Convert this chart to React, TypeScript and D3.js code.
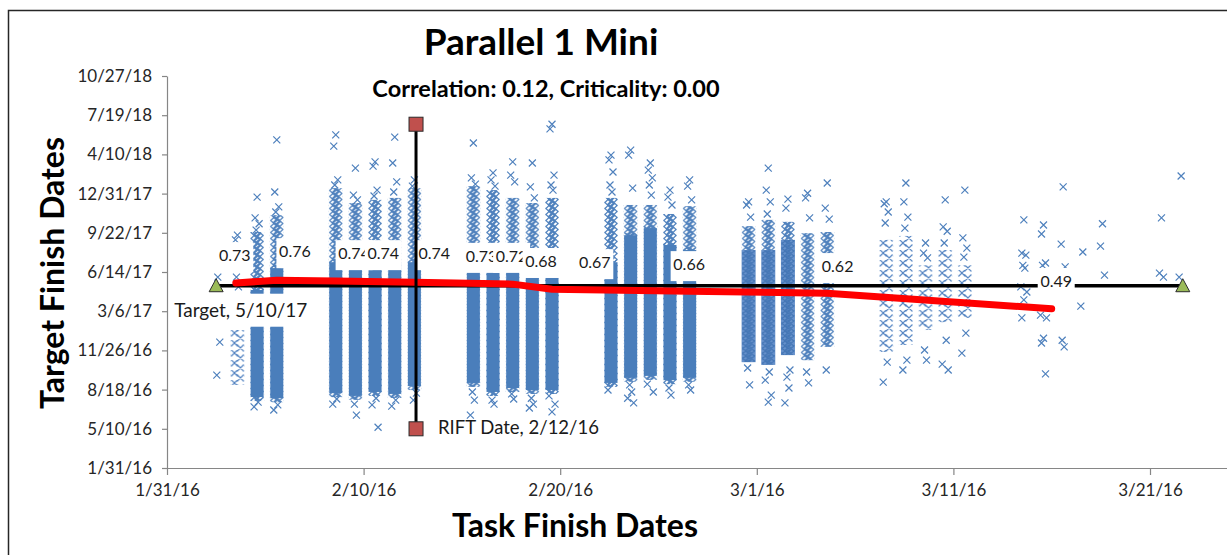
import React, { useEffect, useRef } from "react";
import * as d3 from "d3";

const W = 1227;
const H = 555;
const FONT = "Lato, 'Open Sans', sans-serif";

const title = "Parallel 1 Mini";
const subtitle = "Correlation: 0.12, Criticality: 0.00";
const xTitle = "Task Finish Dates";
const yTitle = "Target Finish Dates";

const xTicks = ["1/31/16", "2/10/16", "2/20/16", "3/1/16", "3/11/16", "3/21/16"];
const xMax = "3/31/16";
const yTicks = ["1/31/16", "5/10/16", "8/18/16", "11/26/16", "3/6/17", "6/14/17", "9/22/17", "12/31/17", "4/10/18", "7/19/18", "10/27/18"];

// one column of samples per working day (task finish ~2pm)
const colDays = [
  "2016-02-02 14:00", "2016-02-03 14:00", "2016-02-04 14:00", "2016-02-05 14:00",
  "2016-02-08 14:00", "2016-02-09 14:00", "2016-02-10 14:00", "2016-02-11 14:00", "2016-02-12 14:00",
  "2016-02-15 14:00", "2016-02-16 14:00", "2016-02-17 14:00", "2016-02-18 14:00", "2016-02-19 14:00",
  "2016-02-22 14:00", "2016-02-23 14:00", "2016-02-24 14:00", "2016-02-25 14:00", "2016-02-26 14:00",
  "2016-02-29 14:00", "2016-03-01 14:00", "2016-03-02 14:00", "2016-03-03 14:00", "2016-03-04 14:00",
  "2016-03-07 14:00", "2016-03-08 14:00", "2016-03-09 14:00", "2016-03-10 14:00", "2016-03-11 14:00",
  "2016-03-14 14:00", "2016-03-15 14:00", "2016-03-16 14:00", "2016-03-17 14:00", "2016-03-18 14:00",
  "2016-03-21 14:00", "2016-03-22 14:00",
];

// single samples (target finish dates) that stand out of each column
const colPoints: string[][] = [
  ["2017-06-01", "2017-02-06", "2016-12-17", "2016-09-24"],
  ["2017-09-16", "2017-09-04", "2017-07-20", "2017-06-01", "2017-05-07"],
  ["2017-12-22", "2017-10-30", "2017-10-15", "2017-09-29", "2016-07-17", "2016-07-05"],
  ["2018-05-17", "2018-01-04", "2017-11-27", "2017-11-14", "2016-07-10", "2016-06-27"],
  ["2018-05-30", "2018-05-01", "2018-02-04", "2018-01-22", "2016-07-25", "2016-07-12"],
  ["2018-03-06", "2017-12-27", "2017-12-15", "2016-07-12", "2016-06-14"],
  ["2018-03-22", "2018-03-11", "2018-01-09", "2017-12-25", "2016-07-27", "2016-07-10", "2016-05-14"],
  ["2018-05-24", "2018-03-19", "2018-01-30", "2018-01-04", "2016-07-22", "2016-07-07"],
  ["2018-02-04", "2018-01-19", "2016-08-09", "2016-07-22"],
  ["2018-05-09", "2018-02-09", "2018-01-24", "2016-08-12", "2016-07-22", "2016-06-14"],
  ["2018-02-22", "2018-02-04", "2018-01-19", "2016-07-22", "2016-07-12"],
  ["2018-03-22", "2018-02-16", "2018-01-30", "2016-08-07", "2016-07-25"],
  ["2018-03-19", "2018-01-17", "2017-12-20", "2016-07-27", "2016-07-12", "2016-07-02"],
  ["2018-06-26", "2018-06-14", "2018-02-16", "2018-01-22", "2018-01-09", "2016-08-02", "2016-07-12", "2016-06-22"],
  ["2018-04-08", "2018-03-27", "2018-02-24", "2018-01-22", "2018-01-04", "2016-08-17"],
  ["2018-04-21", "2018-04-08", "2018-01-14", "2016-08-30", "2016-08-12", "2016-07-27", "2016-07-15"],
  ["2018-03-19", "2018-03-01", "2018-02-09", "2018-01-22", "2017-12-27", "2016-09-01", "2016-08-12"],
  ["2018-01-09", "2017-12-22", "2017-12-02", "2016-08-22", "2016-08-04"],
  ["2018-02-04", "2018-01-19", "2017-12-15", "2016-08-30", "2016-08-17"],
  ["2017-12-10", "2017-12-02", "2017-11-01", "2016-10-12", "2016-08-30"],
  ["2018-03-06", "2018-01-09", "2017-12-10", "2017-11-09", "2016-10-02", "2016-09-11", "2016-08-04", "2016-07-17"],
  ["2017-12-17", "2017-11-24", "2016-10-07", "2016-09-19", "2016-08-22", "2016-07-15"],
  ["2018-01-01", "2017-12-20", "2017-10-30", "2016-10-02", "2016-09-04"],
  ["2018-01-27", "2017-11-24", "2017-10-27", "2016-10-07"],
  ["2017-12-10", "2017-12-05", "2017-11-14", "2017-10-17", "2016-10-27", "2016-09-06"],
  ["2018-01-27", "2017-12-10", "2017-11-01", "2017-10-04", "2016-11-01", "2016-10-07"],
  ["2017-08-27", "2017-08-01", "2017-07-20", "2016-11-27", "2016-11-01"],
  ["2017-12-15", "2017-10-07", "2017-09-26", "2017-08-27", "2016-12-22", "2016-10-22", "2016-10-07"],
  ["2018-01-09", "2017-09-09", "2017-08-14", "2017-07-22", "2017-01-09", "2016-11-19"],
  ["2017-10-25", "2017-08-01", "2017-07-27", "2017-07-01", "2017-06-24", "2017-05-07", "2017-04-24", "2017-04-04", "2017-02-17"],
  ["2017-10-12", "2017-09-19", "2017-07-07", "2017-07-01", "2017-06-11", "2017-02-24", "2017-02-17", "2016-12-27", "2016-12-15", "2016-09-27"],
  ["2018-01-17", "2017-08-24", "2017-06-27", "2016-12-22", "2016-12-05"],
  ["2017-08-04", "2017-03-19"],
  ["2017-10-15", "2017-08-19", "2017-06-06"],
  ["2017-10-30", "2017-06-11", "2017-06-01"],
  ["2018-02-14", "2017-06-01"],
];

// packed stretches of each column: [from, to, density 1..4]
const colBands: [string, string, number][][] = [
  [],
  [["2017-01-17", "2016-08-30", 1]],
  [["2017-09-24", "2017-04-29", 2], ["2017-04-29", "2016-07-30", 4]],
  [["2017-11-06", "2017-06-24", 2], ["2017-06-24", "2016-07-27", 4]],
  [["2018-01-14", "2017-07-09", 2], ["2017-07-09", "2016-08-09", 4]],
  [["2017-12-07", "2017-07-09", 2], ["2017-07-09", "2016-08-02", 4]],
  [["2017-12-15", "2017-07-09", 2], ["2017-07-09", "2016-08-12", 4]],
  [["2017-12-20", "2017-07-09", 2], ["2017-07-09", "2016-08-07", 4]],
  [["2018-01-14", "2017-07-09", 2], ["2017-07-09", "2016-08-27", 4]],
  [["2018-01-19", "2017-08-09", 2], ["2017-08-09", "2016-09-04", 4]],
  [["2018-01-09", "2017-08-09", 2], ["2017-08-09", "2016-08-12", 4]],
  [["2017-12-20", "2017-08-09", 2], ["2017-08-09", "2016-08-22", 4]],
  [["2017-12-07", "2017-08-04", 2], ["2017-08-04", "2016-08-17", 4]],
  [["2017-12-20", "2017-08-04", 2], ["2017-08-04", "2016-08-17", 4]],
  [["2017-12-20", "2017-07-09", 2], ["2017-07-09", "2016-09-04", 4]],
  [["2017-12-02", "2017-09-16", 2], ["2017-09-16", "2016-09-17", 4]],
  [["2017-12-02", "2017-10-04", 2], ["2017-10-04", "2016-09-22", 4]],
  [["2017-11-09", "2017-08-22", 2], ["2017-08-22", "2016-09-11", 4]],
  [["2017-11-29", "2017-08-09", 2], ["2017-08-09", "2016-09-17", 4]],
  [["2017-10-09", "2017-08-09", 2], ["2017-08-09", "2016-10-27", 3]],
  [["2017-10-25", "2017-08-09", 2], ["2017-08-09", "2016-10-20", 3]],
  [["2017-10-20", "2017-09-04", 2], ["2017-09-04", "2016-11-14", 3]],
  [["2017-09-21", "2016-11-01", 2]],
  [["2017-09-24", "2016-12-05", 2]],
  [["2017-09-04", "2016-11-22", 1]],
  [["2017-09-14", "2016-12-10", 1]],
  [["2017-07-01", "2017-01-17", 1]],
  [["2017-08-09", "2017-02-06", 1]],
  [["2017-07-01", "2017-02-17", 1]],
  [], [], [], [], [], [], [],
];

// red trend of the samples
const trendX = ["2016-02-03 12:00", "2016-02-05 14:00", "2016-02-08 14:00", "2016-02-12 14:00", "2016-02-17 14:00", "2016-02-19 14:00", "2016-02-26 14:00", "2016-03-04 14:00", "2016-03-16 00:00"];
const trendY = ["2017-05-17", "2017-05-24", "2017-05-22", "2017-05-19", "2017-05-14", "2017-05-01", "2017-04-26", "2017-04-21", "2017-03-12"];

const targetDate = "2017-05-10";
const targetSpan = ["2016-02-02 12:00", "2016-03-22 16:00"];
const targetLabel = "Target, 5/10/17";
const riftDate = "2016-02-12 16:00";
const riftSpan = ["2016-05-10", "2018-06-26"];
const riftLabel = "RIFT Date, 2/12/16";

const corrValues = ["0.73", "0.76", "0.74", "0.74", "0.74", "0.73", "0.72", "0.68", "0.67", "0.66", "0.62", "0.49"];
const corrX = ["2016-02-03 10:40", "2016-02-06 12:10", "2016-02-09 12:25", "2016-02-11 00:00", "2016-02-13 14:20", "2016-02-16 00:00", "2016-02-17 12:40", "2016-02-19 00:40", "2016-02-21 18:15", "2016-02-26 13:25", "2016-03-05 02:40", "2016-03-16 05:30"];
const corrY = ["2017-07-22", "2017-08-01", "2017-07-27", "2017-07-27", "2017-07-27", "2017-07-20", "2017-07-20", "2017-07-07", "2017-07-04", "2017-06-29", "2017-06-24", "2017-05-17"];

const pDay = d3.timeParse("%Y-%m-%d");
const pTime = d3.timeParse("%Y-%m-%d %H:%M");
const pTick = d3.timeParse("%m/%d/%y");
const fmt = d3.timeFormat("%-m/%-d/%y");
const toDate = (s: string) => (s.length > 10 ? pTime(s) : pDay(s)) as Date;

const BLUE = "#4a7ebb";
const CROSS = "M-3.5,-3.5L3.5,3.5M-3.5,3.5L3.5,-3.5";
const dodge = [0, -2, 2, -1, 1, -3, 3];
const BW = 14; // column band width

// cross path helper for the pattern tiles
const xs = (pts: number[][]) => pts.map(([a, b]) => `M${a - 3.5},${b - 3.5}L${a + 3.5},${b + 3.5}M${a - 3.5},${b + 3.5}L${a + 3.5},${b - 3.5}`).join("");

const App = () => {
  const xAxisRef = useRef<SVGGElement>(null);
  const yAxisRef = useRef<SVGGElement>(null);

  const x = d3.scaleTime()
    .domain([pTick(xTicks[0]) as Date, pTick(xMax) as Date])
    .range([167, 167 + 60 * 19.66]);
  const y = d3.scaleTime()
    .domain([pTick(yTicks[0]) as Date, pTick(yTicks[yTicks.length - 1]) as Date])
    .range([468, 76]);

  useEffect(() => {
    const style = (g: any) => {
      g.attr("font-family", FONT).attr("font-size", 17);
      g.select(".domain").attr("stroke", "#868686").attr("stroke-width", 1.2);
      g.selectAll(".tick line").attr("stroke", "#868686").attr("stroke-width", 1.2);
      g.selectAll(".tick text").attr("fill", "#262626");
    };
    const gx = d3.select(xAxisRef.current);
    // @ts-ignore
    gx.call(d3.axisBottom(x).tickValues(xTicks.map(pTick)).tickFormat(fmt).tickSize(7).tickPadding(9).tickSizeOuter(0));
    style(gx);
    const gy = d3.select(yAxisRef.current);
    // @ts-ignore
    gy.call(d3.axisLeft(y).tickValues(yTicks.map(pTick)).tickFormat(fmt).tickSize(5).tickPadding(10).tickSizeOuter(0));
    style(gy);
  }, []);

  const trend = d3.line<number>()
    .x(i => x(toDate(trendX[i])))
    .y(i => y(toDate(trendY[i])));

  const ty = y(toDate(targetDate));
  const tx0 = x(toDate(targetSpan[0]));
  const tx1 = x(toDate(targetSpan[1]));
  const rx = x(toDate(riftDate));
  const ry0 = y(toDate(riftSpan[0]));
  const ry1 = y(toDate(riftSpan[1]));

  const tri = (cx: number, cy: number) => `M${cx},${cy - 7}L${cx + 7},${cy + 6}L${cx - 7},${cy + 6}Z`;

  return (
    <div style={{ position: "absolute", left: 0, top: 0 }}>
      <svg width={W} height={H} style={{ display: "block", background: "#fff" }}>
        <defs>
          <pattern id="lv1" patternUnits="userSpaceOnUse" width={BW} height={10}>
            <path d={xs([[4, 3], [10, 8], [10, -2]])} stroke="#5585c2" strokeWidth={1.2} fill="none" />
          </pattern>
          <pattern id="lv2" patternUnits="userSpaceOnUse" width={BW} height={6}>
            <path d={xs([[4, 1.5], [4, 7.5], [10, 4.5], [10, -1.5], [7, 3]])} stroke="#4f81bd" strokeWidth={1.2} fill="none" />
          </pattern>
          <pattern id="lv3" patternUnits="userSpaceOnUse" width={BW} height={5}>
            <rect width={BW} height={5} fill="#6791cb" />
            <path d={xs([[4, 1], [4, 6], [10, 3.5], [10, -1.5], [7, 2.5]])} stroke="#4577b6" strokeWidth={1.2} fill="none" />
          </pattern>
        </defs>

        <rect x={8.5} y={10.5} width={1400} height={700} fill="#fff" stroke="#262626" strokeWidth={1.5} />

        <text x={541} y={55} textAnchor="middle" fontFamily={FONT} fontWeight="bold" fontSize={37} fill="#000">{title}</text>
        <text x={546} y={97} textAnchor="middle" fontFamily={FONT} fontWeight="bold" fontSize={23.5} fill="#000">{subtitle}</text>

        <g ref={yAxisRef} transform="translate(167,0)" />
        <g ref={xAxisRef} transform="translate(0,468)" />

        <text transform="translate(64,273) rotate(-90)" textAnchor="middle" fontFamily={FONT} fontWeight="bold" fontSize={32} fill="#000">{yTitle}</text>
        <text x={575} y={537} textAnchor="middle" fontFamily={FONT} fontWeight="bold" fontSize={32} fill="#000">{xTitle}</text>

        {/* samples */}
        {colDays.map((d, ci) => {
          const cx = x(toDate(d));
          return (
            <g key={ci}>
              <g transform={`translate(${cx - BW / 2},0)`}>
                {colBands[ci].map(([a, b, lv], bi) => {
                  const y0 = y(toDate(a));
                  const y1 = y(toDate(b));
                  return lv === 4 ? (
                    <g key={bi}>
                      <rect x={0} y={y0 - 2} width={BW} height={y1 - y0 + 6} fill="url(#lv2)" />
                      <rect x={0.5} y={y0} width={BW - 1} height={y1 - y0} fill={BLUE} />
                    </g>
                  ) : (
                    <rect key={bi} x={0} y={y0} width={BW} height={y1 - y0} fill={`url(#lv${lv})`} />
                  );
                })}
              </g>
              {colPoints[ci].map((p, pi) => (
                <path key={pi} d={CROSS}
                  transform={`translate(${cx + dodge[pi % dodge.length]},${y(toDate(p))})`}
                  stroke="#4f81bd" strokeWidth={1.2} fill="none" />
              ))}
            </g>
          );
        })}

        {/* target line */}
        <line x1={tx0} x2={tx1} y1={ty} y2={ty} stroke="#000" strokeWidth={3.5} />
        <path d={trend(d3.range(trendX.length)) as string} fill="none" stroke="#ff0000" strokeWidth={7} strokeLinecap="round" strokeLinejoin="round" />
        <path d={tri(tx0, ty)} fill="#9bbb59" stroke="#2b2b2b" strokeWidth={1} />
        <path d={tri(tx1, ty)} fill="#9bbb59" stroke="#2b2b2b" strokeWidth={1} />

        <rect x={tx0 - 45} y={ty + 8} width={142} height={33} fill="#fff" />
        <text x={tx0 - 42} y={ty + 26} dominantBaseline="middle" fontFamily={FONT} fontSize={19} fill="#1a1a1a">{targetLabel}</text>

        {/* correlation labels */}
        {corrValues.map((v, i) => {
          const cx = x(toDate(corrX[i]));
          const cy = y(toDate(corrY[i]));
          return (
            <g key={i}>
              <rect x={cx - 18.5} y={cy - 15} width={37} height={30} fill="#fff" />
              <text x={cx} y={cy} textAnchor="middle" dominantBaseline="middle" fontFamily={FONT} fontSize={16} fill="#1a1a1a">{v}</text>
            </g>
          );
        })}

        {/* RIFT */}
        <line x1={rx} x2={rx} y1={ry0} y2={ry1} stroke="#000" strokeWidth={3} />
        <rect x={rx - 7} y={ry1 - 7} width={14} height={14} fill="#c0504d" stroke="#2b2b2b" strokeWidth={1} />
        <rect x={rx - 7} y={ry0 - 7} width={14} height={14} fill="#c0504d" stroke="#2b2b2b" strokeWidth={1} />
        <text x={rx + 22} y={ry0 + 1} dominantBaseline="middle" fontFamily={FONT} fontSize={18.5} fill="#1a1a1a">{riftLabel}</text>
      </svg>
    </div>
  );
};

export default App;
